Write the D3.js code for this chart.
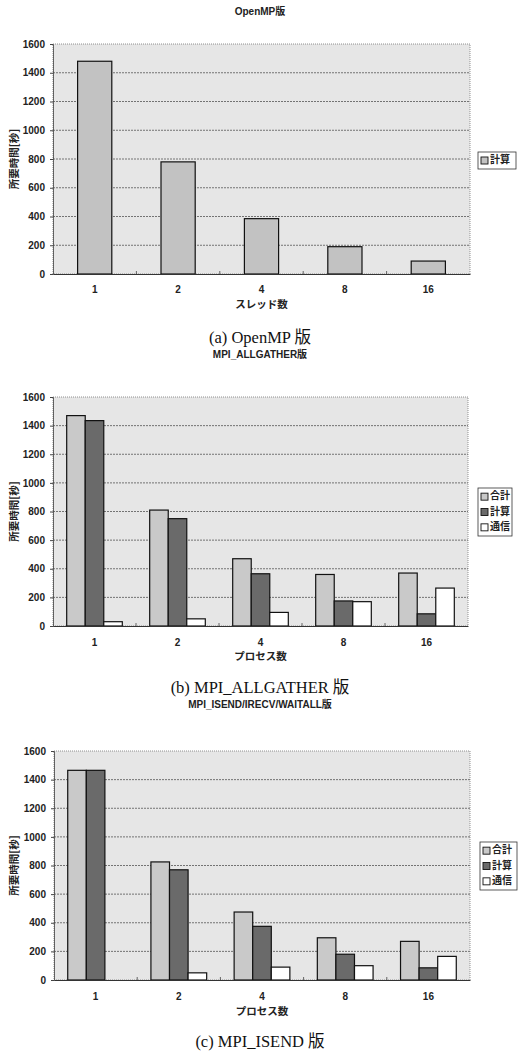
<!DOCTYPE html>
<html><head><meta charset="utf-8">
<script src="https://cdn.jsdelivr.net/npm/d3@7"></script>
<style>
body{margin:0;background:#fff;}
svg{display:block;}
</style></head>
<body>
<svg id="c" width="520" height="1052"></svg>
<script>
const categories = ["1","2","4","8","16"];
const yTicks = [0,200,400,600,800,1000,1200,1400,1600];
const openmpCompute = [1480, 780, 385, 190, 90];
const allgatherTotal = [1470, 810, 470, 360, 370];
const allgatherCompute = [1435, 750, 365, 175, 85];
const allgatherComm = [30, 50, 95, 170, 265];
const isendTotal = [1465, 825, 475, 295, 270];
const isendCompute = [1465, 770, 375, 180, 85];
const isendComm = [0, 50, 90, 100, 165];
const seriesNames3 = ["合計","計算","通信"];
const seriesNames1 = ["計算"];

const svg = d3.select("#c");
const sans = "'Noto Sans CJK JP', 'DejaVu Sans', sans-serif";
const narrow = "'Liberation Sans Narrow', 'Liberation Sans', 'Noto Sans CJK JP', sans-serif";
const serif = "'Liberation Serif', 'DejaVu Serif', 'Noto Sans CJK JP', serif";

function drawChart(cfg){
  const g = svg.append("g");
  const x0 = d3.scaleBand().domain(categories).range([cfg.left, cfg.right]).paddingInner(0).paddingOuter(0);
  const y = d3.scaleLinear().domain([0,1600]).range([cfg.bottom, cfg.top]);

  g.append("text").attr("x", 260).attr("y", cfg.titleY).attr("text-anchor","middle")
    .attr("dominant-baseline","middle").attr("font-family",narrow).attr("font-size",10).attr("font-weight","bold")
    .attr("fill","#222").text(cfg.title);

  g.append("rect").attr("x",cfg.left).attr("y",cfg.top).attr("width",cfg.right-cfg.left).attr("height",cfg.bottom-cfg.top)
    .attr("fill","#e6e6e6");
  g.append("g").selectAll("line").data(yTicks.filter(t=>t>0 && t<1600)).join("line")
    .attr("x1",cfg.left).attr("x2",cfg.right).attr("y1",d=>y(d)).attr("y2",d=>y(d))
    .attr("stroke","#555").attr("stroke-width",0.8).attr("stroke-dasharray","2,1");
  g.append("rect").attr("x",cfg.left).attr("y",cfg.top).attr("width",cfg.right-cfg.left).attr("height",cfg.bottom-cfg.top)
    .attr("fill","none").attr("stroke","#777").attr("stroke-width",0.8).attr("stroke-dasharray","1,1");

  const x1 = d3.scaleBand().domain(cfg.series.map((s,i)=>i)).range([0, x0.bandwidth()*cfg.groupFrac]).padding(0);
  const off = (x0.bandwidth() - x0.bandwidth()*cfg.groupFrac)/2;
  cfg.series.forEach((s,i)=>{
    g.append("g").selectAll("rect").data(s.values.map((v,j)=>({v,c:categories[j]})).filter(d=>d.v>0)).join("rect")
      .attr("x",d=>x0(d.c)+off+x1(i)).attr("width",x1.bandwidth())
      .attr("y",d=>y(d.v)).attr("height",d=>y(0)-y(d.v))
      .attr("fill",s.color).attr("stroke","#111").attr("stroke-width",1.2);
  });

  const yAxis = d3.axisLeft(y).tickValues(yTicks).tickSize(3).tickFormat(d3.format("d"));
  const ya = g.append("g").attr("transform",`translate(${cfg.left},0)`).call(yAxis);
  ya.select(".domain").attr("stroke","#444").attr("stroke-width",0.8);
  ya.selectAll(".tick line").attr("stroke","#444");
  ya.selectAll("text").attr("font-family",narrow).attr("font-size",10).attr("font-weight","bold").attr("fill","#222").attr("x",-8);

  const xa = g.append("g").attr("transform",`translate(0,${cfg.bottom})`).call(d3.axisBottom(x0).tickSize(0));
  xa.select(".domain").attr("stroke","#333").attr("stroke-width",1);
  xa.selectAll("text").attr("font-family",narrow).attr("font-size",10).attr("font-weight","bold").attr("fill","#222")
    .attr("y", cfg.tickY - cfg.bottom).attr("dy","0.35em");
  g.append("g").selectAll("line").data(categories.slice(1)).join("line")
    .attr("x1",d=>x0(d)).attr("x2",d=>x0(d)).attr("y1",cfg.bottom).attr("y2",cfg.bottom-3)
    .attr("stroke","#444").attr("stroke-width",0.8);

  g.append("text").attr("x",(cfg.left+cfg.right)/2).attr("y",cfg.xTitleY).attr("text-anchor","middle")
    .attr("dominant-baseline","middle").attr("font-family",sans).attr("font-size",10.5).attr("font-weight","bold")
    .attr("fill","#222").text(cfg.xTitle);
  g.append("text").attr("transform",`translate(15,${(cfg.top+cfg.bottom)/2}) rotate(-90)`).attr("text-anchor","middle")
    .attr("dominant-baseline","middle").attr("font-family",sans).attr("font-size",10.5).attr("font-weight","bold")
    .attr("fill","#222").text("所要時間[秒]");

  g.append("text").attr("x",260).attr("y",cfg.captionY).attr("text-anchor","middle")
    .attr("dominant-baseline","middle").attr("font-family",serif).attr("font-size",16.5)
    .attr("fill","#111").text(cfg.caption);

  const L = cfg.legend;
  g.append("rect").attr("x",L.x).attr("y",L.y).attr("width",L.w).attr("height",L.h)
    .attr("fill","#fff").attr("stroke","#333").attr("stroke-width",0.8);
  const n = cfg.series.length;
  const step = (L.h-2)/n;
  cfg.series.forEach((s,i)=>{
    const cy = L.y + 1 + step*(i+0.5);
    g.append("rect").attr("x",L.x+3).attr("y",cy-3.5).attr("width",7).attr("height",7)
      .attr("fill",s.color).attr("stroke","#111").attr("stroke-width",0.9);
    g.append("text").attr("x",L.x+12).attr("y",cy).attr("dominant-baseline","middle")
      .attr("font-family",sans).attr("font-size",10).attr("font-weight","bold").attr("fill","#222").text(s.name);
  });
}

const cLight = "#c9c9c9", cDark = "#6a6a6a", cWhite = "#ffffff";

drawChart({title:"OpenMP版", titleY:12, left:53, right:470, top:44, bottom:274, tickY:289, xTitleY:305,
  xTitle:"スレッド数", caption:"(a) OpenMP 版", captionY:339, groupFrac:0.41,
  series:[{name:seriesNames1[0], values:openmpCompute, color:"#c2c2c2"}],
  legend:{x:478,y:152,w:38,h:17}});

drawChart({title:"MPI_ALLGATHER版", titleY:355, left:53, right:468, top:397, bottom:626, tickY:642, xTitleY:657,
  xTitle:"プロセス数", caption:"(b) MPI_ALLGATHER 版", captionY:689, groupFrac:0.67,
  series:[{name:seriesNames3[0], values:allgatherTotal, color:cLight},
          {name:seriesNames3[1], values:allgatherCompute, color:cDark},
          {name:seriesNames3[2], values:allgatherComm, color:cWhite}],
  legend:{x:478,y:488,w:34,h:48}});

drawChart({title:"MPI_ISEND/IRECV/WAITALL版", titleY:705, left:54, right:470, top:751, bottom:980, tickY:996, xTitleY:1012,
  xTitle:"プロセス数", caption:"(c) MPI_ISEND 版", captionY:1043, groupFrac:0.67,
  series:[{name:seriesNames3[0], values:isendTotal, color:cLight},
          {name:seriesNames3[1], values:isendCompute, color:cDark},
          {name:seriesNames3[2], values:isendComm, color:cWhite}],
  legend:{x:480,y:842,w:37,h:48}});
</script>
</body></html>
